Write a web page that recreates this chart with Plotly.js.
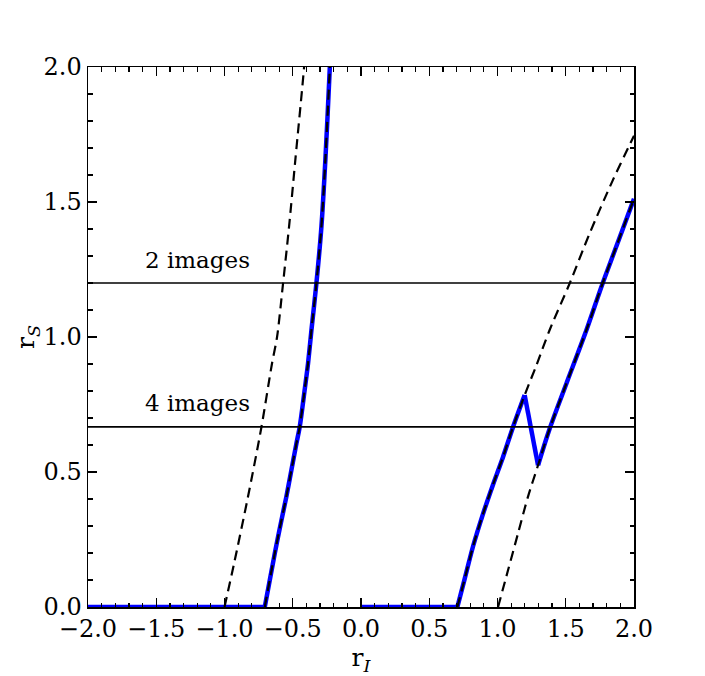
<!DOCTYPE html>
<html>
<head>
<meta charset="utf-8">
<script src="https://cdn.plot.ly/plotly-3.0.1.min.js"></script>
<style>
  html, body { margin: 0; padding: 0; background: #fff; }
  #plot { width: 705px; height: 676px; }
</style>
</head>
<body>
<div id="plot"></div>
<script>
// left branch (r_I < 0): inner curve (blue) and outer dashed curve
const leftInnerX = [-0.705, -0.632, -0.583, -0.547, -0.510, -0.473, -0.449, -0.410, -0.388, -0.363, -0.327, -0.290, -0.261, -0.229, -0.225];
const leftInnerY = [0.0, 0.198, 0.321, 0.408, 0.507, 0.606, 0.667, 0.815, 0.902, 1.026, 1.197, 1.409, 1.656, 1.993, 2.05];

const leftOuterX = [-1.0, -0.930, -0.828, -0.730, -0.652, -0.615, -0.571, -0.527, -0.481, -0.418, -0.410];
const leftOuterY = [0.0, 0.161, 0.408, 0.665, 0.902, 1.0, 1.199, 1.409, 1.656, 1.993, 2.05];

// right branch (r_I > 0): inner dashed curve and outer dashed curve
const rightInnerX = [0.706, 0.760, 0.821, 0.894, 0.967, 1.040, 1.114, 1.199, 1.285, 1.382, 1.529, 1.676, 1.846, 1.974, 2.0];
const rightInnerY = [0.0, 0.105, 0.225, 0.345, 0.453, 0.555, 0.667, 0.785, 0.895, 1.026, 1.199, 1.385, 1.582, 1.718, 1.745];

const rightOuterX = [1.004, 1.077, 1.150, 1.223, 1.297, 1.382, 1.505, 1.651, 1.766, 1.871, 1.988, 2.0];
const rightOuterY = [0.0, 0.136, 0.272, 0.408, 0.525, 0.660, 0.828, 1.025, 1.193, 1.336, 1.496, 1.512];

// where the blue curve jumps from the inner to the outer curve
const jumpFrom = 1.199;
const jumpTo = 1.297;

// image-count thresholds
const limitLevels = [1.2, 0.667];
const limitLabels = ["2 images", "4 images"];
const xRange = [-2, 2];

const font = "DejaVu Serif, Liberation Serif, serif";
const blue = "#0000ff";

function line(x, y, color, width, shape, dash) {
  return {
    type: "scatter", mode: "lines", x: x, y: y,
    line: { color: color, width: width, shape: shape, smoothing: 0.8, dash: dash || "solid" },
    hoverinfo: "skip"
  };
}

const innerR = rightInnerX.map((x, i) => [x, rightInnerY[i]]).filter(p => p[0] <= jumpFrom);
const outerR = rightOuterX.map((x, i) => [x, rightOuterY[i]]).filter(p => p[0] >= jumpTo);

const traces = [
  // blue flat parts at r_S = 0
  line([xRange[0], leftInnerX[0]], [0, 0], blue, 4.5, "linear"),
  line([0, rightInnerX[0]], [0, 0], blue, 4.5, "linear"),
  // blue curves
  line(leftInnerX, leftInnerY, blue, 4.5, "spline"),
  line(innerR.map(p => p[0]), innerR.map(p => p[1]), blue, 4.5, "spline"),
  line([innerR[innerR.length - 1][0], outerR[0][0]], [innerR[innerR.length - 1][1], outerR[0][1]], blue, 4.5, "linear"),
  line(outerR.map(p => p[0]), outerR.map(p => p[1]), blue, 4.5, "spline"),
  // dashed curves
  line(leftOuterX, leftOuterY, "#000", 2.2, "spline", "10px,6px"),
  line(leftInnerX, leftInnerY, "#000", 2.2, "spline", "10px,6px"),
  line(rightInnerX, rightInnerY, "#000", 2.2, "spline", "10px,6px"),
  line(rightOuterX, rightOuterY, "#000", 2.2, "spline", "10px,6px")
];

limitLevels.forEach(lv => {
  traces.push(line(xRange, [lv, lv], "#000", 1.6, "linear"));
});

const annotations = limitLevels.map((lv, i) => ({
  x: -1.6, y: lv + 0.05,
  xref: "x", yref: "y",
  text: limitLabels[i],
  showarrow: false,
  xanchor: "left", yanchor: "bottom",
  yshift: -5,
  font: { family: font, size: 23, color: "#000" }
}));

const axisCommon = {
  showline: true,
  linecolor: "#000",
  linewidth: 1.5,
  mirror: "allticks",
  ticks: "inside",
  ticklen: 9,
  tickwidth: 1.3,
  tickcolor: "#000",
  showgrid: false,
  zeroline: false,
  tickfont: { family: font, size: 24, color: "#000" },
  minor: { ticks: "inside", ticklen: 4.5, tickwidth: 1.2, tickcolor: "#000", dtick: 0.1, showgrid: false }
};

const layout = {
  width: 705,
  height: 676,
  margin: { l: 88, r: 71, t: 67, b: 69 },
  paper_bgcolor: "#fff",
  plot_bgcolor: "#fff",
  showlegend: false,
  xaxis: Object.assign({}, axisCommon, {
    range: xRange,
    dtick: 0.5,
    tick0: -2,
    tickformat: ".1f",
    title: { text: "r<sub><i>I</i></sub>", font: { family: font, size: 25, color: "#000" }, standoff: 4 }
  }),
  yaxis: Object.assign({}, axisCommon, {
    range: [0, 2],
    dtick: 0.5,
    tick0: 0,
    tickformat: ".1f",
    title: { text: "r<sub><i>S</i></sub>", font: { family: font, size: 25, color: "#000" }, standoff: 0 }
  }),
  annotations: annotations
};

Plotly.newPlot("plot", traces, layout, { displayModeBar: false, staticPlot: true });
</script>
</body>
</html>
